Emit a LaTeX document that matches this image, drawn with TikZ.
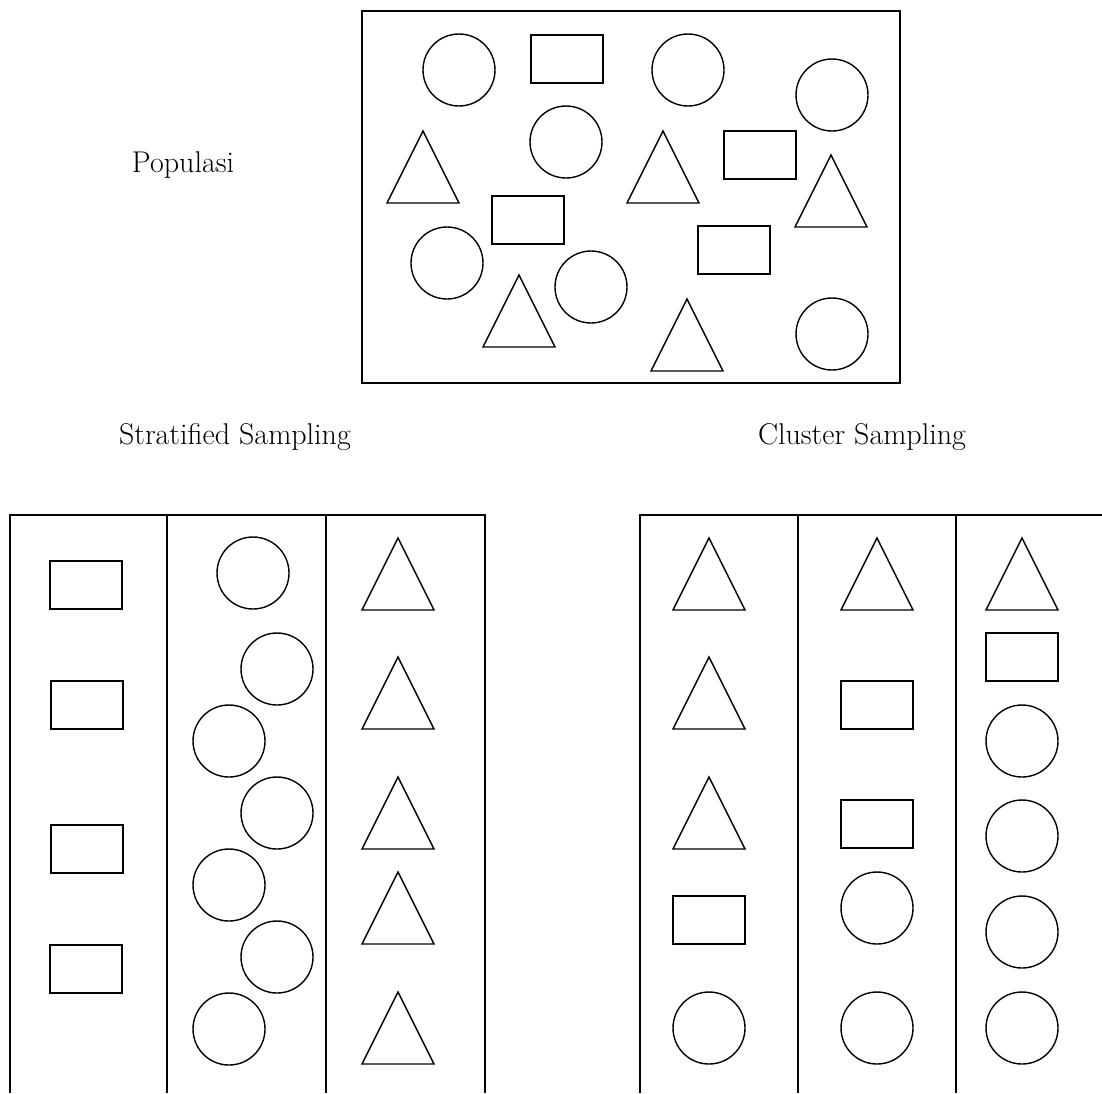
\documentclass[tikz,border=0pt]{standalone}
\usepackage{tikz}
\usetikzlibrary{shapes.geometric}

\begin{document}
\begin{tikzpicture}[
  x=1pt, y=-1pt,
  line width=1.4pt,
  circ/.style={draw, circle, minimum size=72pt, inner sep=0pt, outer sep=0pt},
  rect/.style={draw, rectangle, minimum width=72pt, minimum height=48pt, inner sep=0pt, outer sep=0pt},
  tri/.style={draw, isosceles triangle, isosceles triangle stretches, shape border rotate=90, minimum width=72pt, minimum height=72pt, inner sep=0pt, outer sep=0pt, anchor=apex},
  label/.style={font=\fontsize{30}{36}\selectfont}
]
\useasboundingbox (0,0) rectangle (1102,1093);

% Populasi
\node[label] (poplabel) at (183,165) {Populasi};
\node[draw, rectangle, minimum width=538pt, minimum height=372pt, inner sep=0pt] (pop) at (631,197) {};
\node[circ] (pc1) at (459,70) {};
\node[rect] (pr1) at (567,59) {};
\node[circ] (pc2) at (688,70) {};
\node[circ] (pc3) at (832,95) {};
\node[tri] (pt1) at (423,131) {};
\node[circ] (pc4) at (566,142) {};
\node[tri] (pt2) at (663,131) {};
\node[rect] (pr2) at (760,155) {};
\node[tri] (pt3) at (831,155) {};
\node[rect] (pr3) at (528,220) {};
\node[circ] (pc5) at (447,263) {};
\node[rect] (pr4) at (734,250) {};
\node[circ] (pc6) at (591,287) {};
\node[tri] (pt4) at (519,275) {};
\node[tri] (pt5) at (687,299) {};
\node[circ] (pc7) at (832,334) {};

% Stratified Sampling
\node[label] (stratlabel) at (235,437) {Stratified Sampling};
\draw (10,1093) -- (10,515) -- (485,515) -- (485,1093);
\draw (167,515) -- (167,1093);
\draw (326,515) -- (326,1093);
\node[rect] (sr1) at (86,585) {};
\node[rect] (sr2) at (87,705) {};
\node[rect] (sr3) at (87,849) {};
\node[rect] (sr4) at (86,969) {};
\node[circ] (sc1) at (253,573) {};
\node[circ] (sc2) at (277,669) {};
\node[circ] (sc3) at (229,741) {};
\node[circ] (sc4) at (277,813) {};
\node[circ] (sc5) at (229,885) {};
\node[circ] (sc6) at (277,957) {};
\node[circ] (sc7) at (229,1029) {};
\node[tri] (st1) at (398,538) {};
\node[tri] (st2) at (398,657) {};
\node[tri] (st3) at (398,777) {};
\node[tri] (st4) at (398,872) {};
\node[tri] (st5) at (398,992) {};

% Cluster Sampling
\node[label] (clustlabel) at (862,437) {Cluster Sampling};
\draw (640,1093) -- (640,515) -- (1102,515);
\draw (798,515) -- (798,1093);
\draw (956,515) -- (956,1093);
\node[tri] (ct1) at (709,538) {};
\node[tri] (ct2) at (709,657) {};
\node[tri] (ct3) at (709,777) {};
\node[rect] (cr1) at (709,920) {};
\node[circ] (cc1) at (709,1028) {};
\node[tri] (ct4) at (877,538) {};
\node[rect] (cr2) at (877,705) {};
\node[rect] (cr3) at (877,824) {};
\node[circ] (cc2) at (877,908) {};
\node[circ] (cc3) at (877,1028) {};
\node[tri] (ct5) at (1022,538) {};
\node[rect] (cr4) at (1022,657) {};
\node[circ] (cc4) at (1022,741) {};
\node[circ] (cc5) at (1022,836) {};
\node[circ] (cc6) at (1022,932) {};
\node[circ] (cc7) at (1022,1028) {};

\end{tikzpicture}
\end{document}
